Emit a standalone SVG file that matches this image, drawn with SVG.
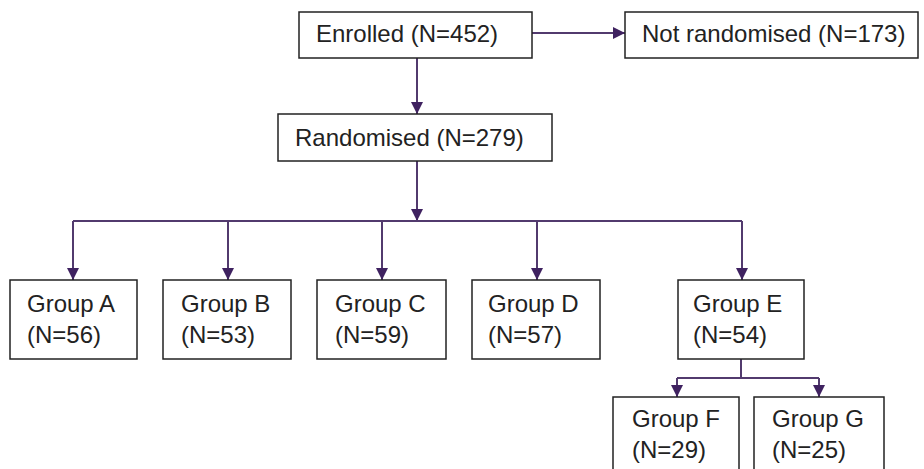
<svg xmlns="http://www.w3.org/2000/svg" width="924" height="469" viewBox="0 0 924 469">
<style>
.box{fill:#fff;stroke:#222;stroke-width:1.5}
.t{font-family:"Liberation Sans",Arial,sans-serif;font-size:24px;fill:#222}
.c{fill:none;stroke:#523a6e;stroke-width:2}
</style>
<defs>
<marker id="ah" viewBox="0 0 10 10" refX="10" refY="5" markerWidth="12" markerHeight="12" markerUnits="userSpaceOnUse" orient="auto">
<path d="M0,0 L10,5 L0,10 Z" fill="#3f2260"/>
</marker>
</defs>
<g id="connectors">
<path class="c" d="M532,33 H625" marker-end="url(#ah)"/>
<path class="c" d="M417,58 V114" marker-end="url(#ah)"/>
<path class="c" d="M417,161 V221" marker-end="url(#ah)"/>
<path class="c" d="M73,221 H742"/>
<path class="c" d="M73,221 V280" marker-end="url(#ah)"/>
<path class="c" d="M228,221 V280" marker-end="url(#ah)"/>
<path class="c" d="M382,221 V280" marker-end="url(#ah)"/>
<path class="c" d="M537,221 V280" marker-end="url(#ah)"/>
<path class="c" d="M742,221 V280" marker-end="url(#ah)"/>
<path class="c" d="M741,359 V378"/>
<path class="c" d="M677,378 H819"/>
<path class="c" d="M677,378 V397" marker-end="url(#ah)"/>
<path class="c" d="M819,378 V397" marker-end="url(#ah)"/>
</g>
<g id="enrolled"><rect class="box" x="299" y="12" width="233" height="46"/><text class="t" x="316" y="42">Enrolled (N=452)</text></g>
<g id="notrand"><rect class="box" x="625" y="12" width="293" height="46"/><text class="t" x="642" y="42">Not randomised (N=173)</text></g>
<g id="rand"><rect class="box" x="278" y="114" width="274" height="47"/><text class="t" x="295" y="146">Randomised (N=279)</text></g>
<g id="groupA"><rect class="box" x="10" y="280" width="127" height="79"/><text class="t" x="27" y="312">Group A</text><text class="t" x="27" y="343">(N=56)</text></g>
<g id="groupB"><rect class="box" x="163" y="280" width="128" height="79"/><text class="t" x="181" y="312">Group B</text><text class="t" x="181" y="343">(N=53)</text></g>
<g id="groupC"><rect class="box" x="317" y="280" width="129" height="79"/><text class="t" x="335" y="312">Group C</text><text class="t" x="335" y="343">(N=59)</text></g>
<g id="groupD"><rect class="box" x="472" y="280" width="128" height="79"/><text class="t" x="488" y="312">Group D</text><text class="t" x="488" y="343">(N=57)</text></g>
<g id="groupE"><rect class="box" x="678" y="280" width="126" height="79"/><text class="t" x="693" y="312">Group E</text><text class="t" x="693" y="343">(N=54)</text></g>
<g id="groupF"><rect class="box" x="613" y="397" width="126" height="80"/><text class="t" x="632" y="427">Group F</text><text class="t" x="632" y="458">(N=29)</text></g>
<g id="groupG"><rect class="box" x="754" y="397" width="130" height="80"/><text class="t" x="772" y="427">Group G</text><text class="t" x="772" y="458">(N=25)</text></g>
</svg>
